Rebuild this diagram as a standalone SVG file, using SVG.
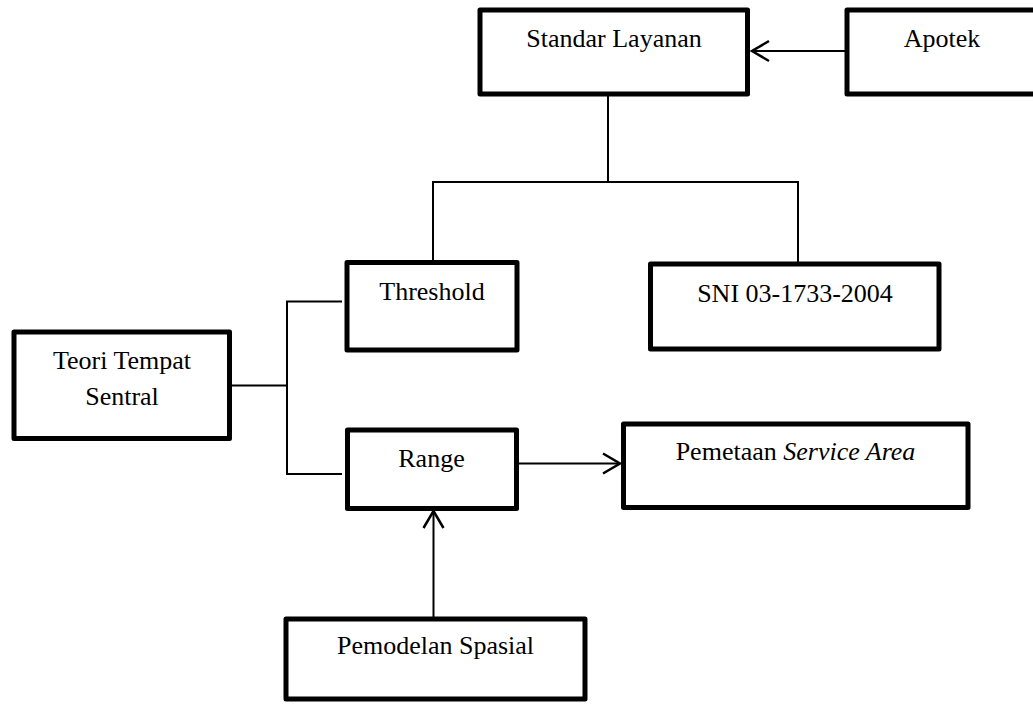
<svg xmlns="http://www.w3.org/2000/svg" width="1033" height="704" viewBox="0 0 1033 704">
<style>
.box{fill:#fff;stroke:#000;stroke-width:5;stroke-linejoin:round}
.lbl{font-family:"Liberation Serif","Times New Roman",serif;font-size:26px;fill:#000;text-anchor:middle}
.ln{fill:none;stroke:#000;stroke-width:2}
</style>
<defs>
<marker id="arr" viewBox="-20 -12 24 24" markerWidth="24" markerHeight="24" refX="0" refY="0" orient="auto" markerUnits="userSpaceOnUse" overflow="visible">
<path d="M-17,-10 L0,0 L-17,10" fill="none" stroke="#000" stroke-width="2.5"/>
</marker>
</defs>
<rect width="1033" height="704" fill="#fff"/>
<g id="connectors">
<line class="ln" x1="845" y1="51" x2="752" y2="51" marker-end="url(#arr)"/>
<polyline class="ln" points="608,96 608,182"/>
<polyline class="ln" points="433,260 433,182 798,182 798,262"/>
<line class="ln" x1="231" y1="385.5" x2="287" y2="385.5"/>
<polyline class="ln" points="342,301.5 287,301.5 287,474 342,474"/>
<line class="ln" x1="519" y1="463.5" x2="620" y2="463.5" marker-end="url(#arr)"/>
<line class="ln" x1="433.5" y1="617" x2="433.5" y2="511" marker-end="url(#arr)"/>
</g>
<g id="standar">
<rect class="box" x="480" y="10" width="267.5" height="84"/>
<text class="lbl" x="614" y="47">Standar Layanan</text>
</g>
<g id="apotek">
<rect class="box" x="847" y="10" width="190" height="84"/>
<text class="lbl" x="942" y="47">Apotek</text>
</g>
<g id="threshold">
<rect class="box" x="347" y="262.5" width="170" height="87.5"/>
<text class="lbl" x="432" y="300">Threshold</text>
</g>
<g id="sni">
<rect class="box" x="650.5" y="264" width="288.5" height="85"/>
<text class="lbl" x="795" y="301.5">SNI 03-1733-2004</text>
</g>
<g id="teori">
<rect class="box" x="14" y="332" width="215.5" height="106.5"/>
<text class="lbl" x="122" y="369">Teori Tempat</text>
<text class="lbl" x="122" y="404.5">Sentral</text>
</g>
<g id="range">
<rect class="box" x="347.5" y="430" width="169" height="78.5"/>
<text class="lbl" x="431.5" y="467">Range</text>
</g>
<g id="pemetaan">
<rect class="box" x="623.5" y="424" width="344.5" height="83.5"/>
<text class="lbl" x="795.5" y="460">Pemetaan <tspan font-style="italic">Service Area</tspan></text>
</g>
<g id="pemodelan">
<rect class="box" x="286" y="619" width="299" height="80"/>
<text class="lbl" x="435.5" y="654">Pemodelan Spasial</text>
</g>
</svg>
